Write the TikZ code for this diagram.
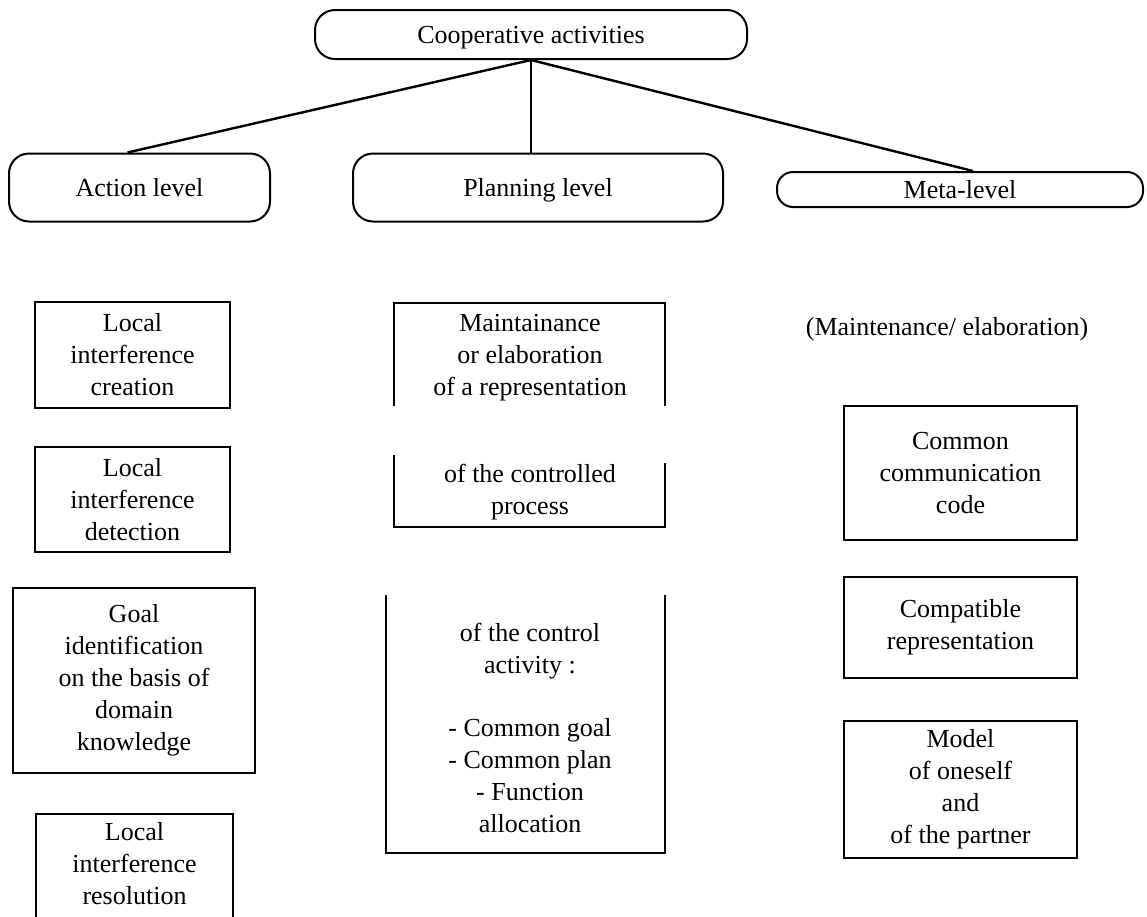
\documentclass[tikz,border=0pt]{standalone}
\usepackage{fontspec}
\setmainfont{Liberation Serif}
\begin{document}
\begin{tikzpicture}[x=1pt,y=-1pt,
  every node/.style={font=\fontsize{26}{32}\selectfont, inner sep=0pt, align=center},
  lvl/.style={draw, line width=2pt, rounded corners=20pt, text height=22pt, text depth=4pt},
  boxn/.style={draw, line width=2pt},
  boxline/.style={line width=2pt, line join=miter},
  conn/.style={line width=2.4pt},
  vconn/.style={line width=1.8pt}]
\useasboundingbox (0,0) rectangle (1147,916);
% top level
\node[lvl, minimum width=432pt, minimum height=49pt] (coop) at (531,34.5) {Cooperative activities};
\node[lvl, minimum width=261pt, minimum height=68pt] (action) at (139.5,187.5) {Action level};
\node[lvl, minimum width=370pt, minimum height=68pt] (plan) at (538,187.5) {Planning level};
\node[lvl, rounded corners=16pt, minimum width=366pt, minimum height=35pt] (meta) at (960,189.5) {Meta-level};
\draw[conn] (coop.south) -- ([xshift=-12pt]action.north);
\draw[vconn] (coop.south) -- (coop.south |- plan.north);
\draw[conn] (coop.south) -- ([xshift=13pt]meta.north);
% action column
\node[boxn, minimum width=195pt, minimum height=106pt] (la1) at (132.5,355) {Local\\interference\\creation};
\node[boxn, minimum width=195pt, minimum height=105pt] (la2) at (132.5,499.5) {Local\\interference\\detection};
\node[boxn, minimum width=242pt, minimum height=185pt] (la3) at (134,680.5) {Goal\\identification\\on the basis of\\domain\\knowledge};
\node (la4) at (134.5,864) {Local\\interference\\resolution};
\draw[boxline] (36,922) -- (36,814) -- (233,814) -- (233,922);
% planning column
\draw[boxline] (394,406) -- (394,303) -- (665,303) -- (665,406);
\node (p1) at (530,358) {Maintainance\\or elaboration\\of a representation};
\draw[boxline] (394,455) -- (394,527) -- (665,527) -- (665,463);
\node (p2) at (530,492) {of the controlled\\process};
\draw[boxline] (386,595) -- (386,853) -- (665,853) -- (665,595);
\node (p3) at (530,728) {of the control\\activity :\\[31pt]- Common goal\\- Common plan\\- Function\\allocation};
% meta column
\node (mt) at (947,329) {(Maintenance/ elaboration)};
\node[boxn, minimum width=233pt, minimum height=134pt] (m1) at (960.5,473) {Common\\communication\\code};
\node[boxn, minimum width=233pt, minimum height=101pt] (m2) at (960.5,627.5) {Compatible\\representation};
\node[boxn, minimum width=233pt, minimum height=137pt] (m3) at (960.5,789.5) {Model\\of oneself\\and\\of the partner};
\end{tikzpicture}
\end{document}
